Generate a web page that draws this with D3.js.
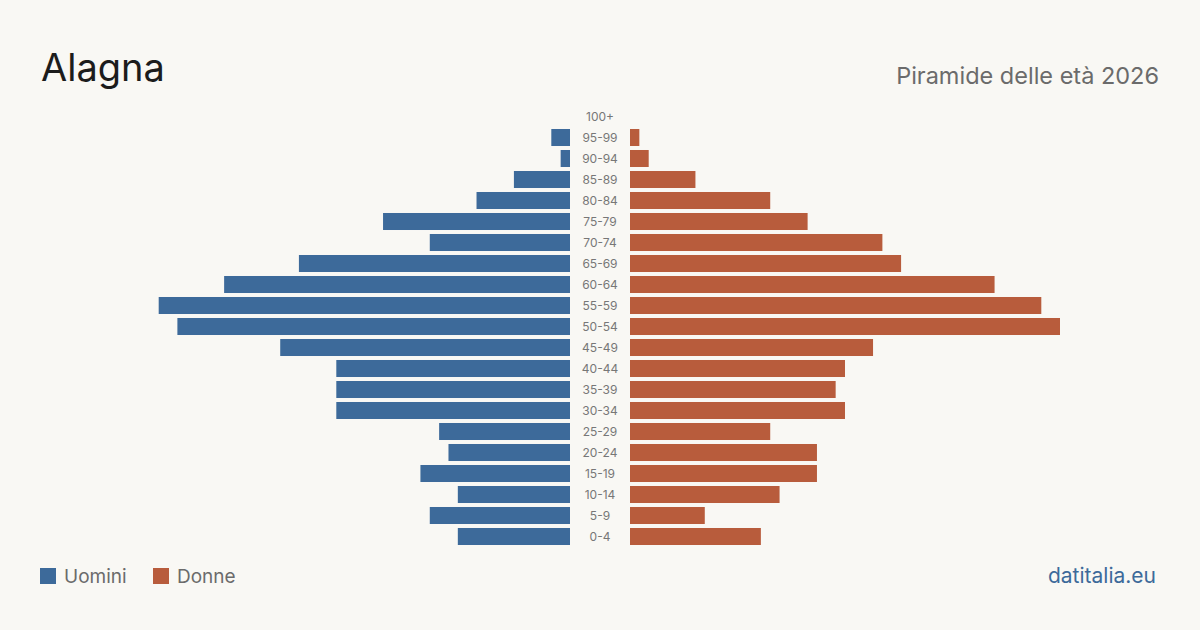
<!DOCTYPE html>
<html>
<head>
<meta charset="utf-8">
<script src="https://cdn.jsdelivr.net/npm/d3@7"></script>
<style>
  body { margin: 0; background: #f9f8f4; }
  svg { display: block; font-family: Inter, "Noto Sans", sans-serif; }
</style>
</head>
<body>
<div id="chart"></div>
<script>
// age groups, top to bottom
const ageGroups = ["100+", "95-99", "90-94", "85-89", "80-84", "75-79", "70-74", "65-69", "60-64", "55-59",
  "50-54", "45-49", "40-44", "35-39", "30-34", "25-29", "20-24", "15-19", "10-14", "5-9", "0-4"];
const men = [0, 2, 1, 6, 10, 20, 15, 29, 37, 44, 42, 31, 25, 25, 25, 14, 13, 16, 12, 15, 12];
const women = [0, 1, 2, 7, 15, 19, 27, 29, 39, 44, 46, 26, 23, 22, 23, 15, 20, 20, 16, 8, 14];

const width = 1200, height = 630;
const colMen = "#3d6a9a", colWomen = "#b85c3c";

let svg = d3.select("#chart").append("svg")
    .attr("width", width)
    .attr("height", height);

svg.append("rect").attr("width", width).attr("height", height).attr("fill", "#f9f8f4");

// titles
svg.append("text")
    .attr("x", 41).attr("y", 81)
    .attr("font-size", 38)
    .attr("fill", "#1c1c1c")
    .text("Alagna");

svg.append("text")
    .attr("x", 1159).attr("y", 84)
    .attr("text-anchor", "end")
    .attr("font-size", 23.5)
    .attr("fill", "#6b6b6b")
    .text("Piramide delle età 2026");

// scales
let xScale = d3.scaleLinear().domain([0, 46]).range([0, 430]);
let yScale = d3.scaleBand().domain(ageGroups).range([106, 547]).paddingInner(0.19).paddingOuter(0.095);

let rows = ageGroups.map((g, i) => ({age: g, m: men[i], f: women[i]}));

svg.selectAll(".menBar")
    .data(rows)
    .enter().append("rect")
    .attr("class", "menBar")
    .attr("x", d => 570 - xScale(d.m))
    .attr("y", d => yScale(d.age))
    .attr("width", d => xScale(d.m))
    .attr("height", yScale.bandwidth())
    .attr("fill", colMen);

svg.selectAll(".womenBar")
    .data(rows)
    .enter().append("rect")
    .attr("class", "womenBar")
    .attr("x", 630)
    .attr("y", d => yScale(d.age))
    .attr("width", d => xScale(d.f))
    .attr("height", yScale.bandwidth())
    .attr("fill", colWomen);

svg.selectAll(".ageLabel")
    .data(rows)
    .enter().append("text")
    .attr("class", "ageLabel")
    .attr("x", 600)
    .attr("y", d => yScale(d.age) + yScale.bandwidth() / 2)
    .attr("dy", "0.35em")
    .attr("text-anchor", "middle")
    .attr("font-size", 12)
    .attr("fill", "#777")
    .text(d => d.age);

// legend
let legend = [{name: "Uomini", col: colMen, x: 40}, {name: "Donne", col: colWomen, x: 153}];
let lg = svg.selectAll(".legend").data(legend).enter().append("g")
    .attr("transform", d => "translate(" + d.x + ",568)");
lg.append("rect").attr("width", 16).attr("height", 16).attr("fill", d => d.col);
lg.append("text")
    .attr("x", 24).attr("y", 8).attr("dy", "0.35em")
    .attr("font-size", 19)
    .attr("fill", "#6b6b6b")
    .text(d => d.name);

svg.append("text")
    .attr("x", 1156).attr("y", 583)
    .attr("text-anchor", "end")
    .attr("font-size", 21)
    .attr("fill", "#3d6a9a")
    .text("datitalia.eu");
</script>
</body>
</html>
